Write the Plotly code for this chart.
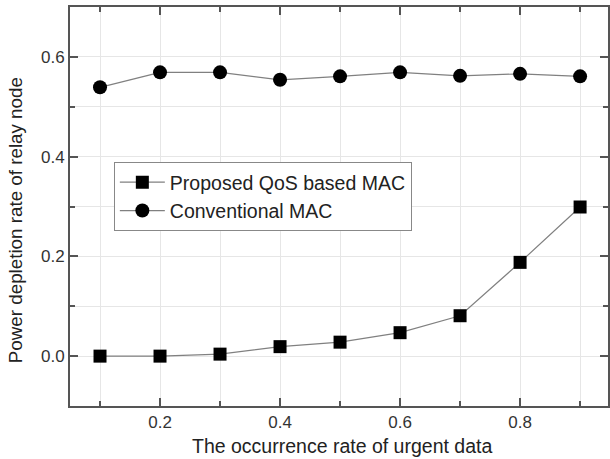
import plotly.graph_objects as go

x_vals = [0.1, 0.2, 0.3, 0.4, 0.5, 0.6, 0.7, 0.8, 0.9]
proposed = [0.0, 0.0, 0.004, 0.019, 0.028, 0.047, 0.081, 0.188, 0.299]
conventional = [0.539, 0.569, 0.569, 0.554, 0.561, 0.569, 0.562, 0.566, 0.561]

x_title = "The occurrence rate of urgent data"
y_title = "Power depletion rate of relay node"
names = ["Proposed QoS based MAC", "Conventional MAC"]

FONT = "Liberation Sans, Arial, sans-serif"

fig = go.Figure()
fig.add_trace(go.Scatter(
    x=x_vals, y=proposed, name=names[0], mode="lines+markers",
    line=dict(color="#808080", width=1.2),
    marker=dict(symbol="square", size=13, color="black"),
))
fig.add_trace(go.Scatter(
    x=x_vals, y=conventional, name=names[1], mode="lines+markers",
    line=dict(color="#808080", width=1.2),
    marker=dict(symbol="circle", size=14, color="black"),
))

axis_common = dict(
    showline=True, linecolor="#555555", linewidth=2,
    ticks="inside", ticklen=8, tickwidth=1.5, tickcolor="#555555",
    showgrid=True, gridcolor="#e6e6e6", gridwidth=1,
    zeroline=False, tickformat=".1f",
    tickfont=dict(family=FONT, size=17, color="#333333"),
    mirror="ticks",
)

fig.update_xaxes(
    range=[0.05, 0.9465], tick0=0, dtick=0.2,
    minor=dict(dtick=0.1, tick0=0, ticks="inside", ticklen=5, tickcolor="#555555",
               showgrid=True, gridcolor="#e6e6e6"),
    **axis_common,
)
fig.update_yaxes(
    range=[-0.1, 0.7], tick0=0, dtick=0.2,
    minor=dict(dtick=0.1, tick0=0, ticks="inside", ticklen=5, tickcolor="#555555",
               showgrid=True, gridcolor="#e6e6e6"),
    **axis_common,
)

fig.add_annotation(text=x_title, xref="paper", yref="paper", x=0.505, y=-0.1328,
                   xanchor="center", yanchor="bottom", showarrow=False,
                   font=dict(family=FONT, size=19.5, color="#222222"))
fig.add_annotation(text=y_title, xref="paper", yref="paper", x=-0.102, y=0.466,
                   xanchor="center", yanchor="middle", showarrow=False, textangle=-90,
                   font=dict(family=FONT, size=18.8, color="#222222"))

fig.update_layout(
    width=610, height=459,
    margin=dict(l=70, r=0, t=7, b=53),
    paper_bgcolor="white", plot_bgcolor="white",
    showlegend=True,
    legend=dict(x=0.0815, y=0.6115, xanchor="left", yanchor="top",
                bgcolor="white", bordercolor="#888888", borderwidth=1,
                font=dict(family=FONT, size=19.5, color="#222222"),
                itemwidth=45, tracegroupgap=0),
)

fig.write_html("out.html")
